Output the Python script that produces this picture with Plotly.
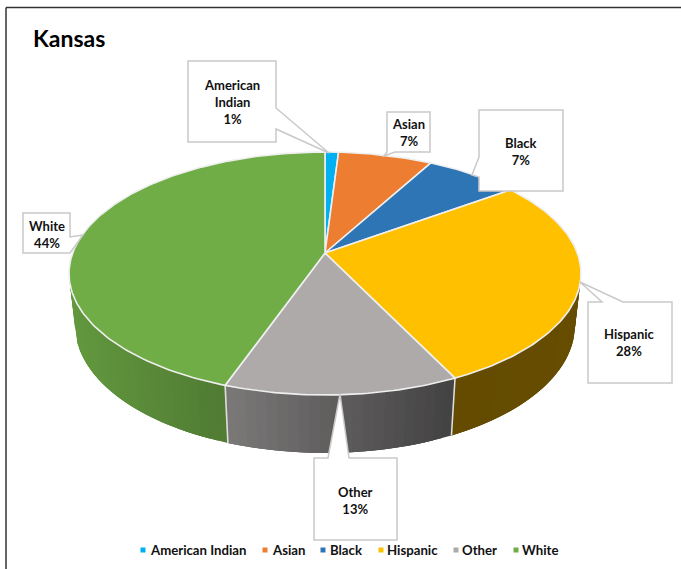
import numpy as np
import plotly.graph_objects as go

# ---- data ----
categories = ["American Indian", "Asian", "Black", "Hispanic", "Other", "White"]
shares = [1.0, 7.0, 7.0, 27.8, 12.6, 44.6]
share_labels = ["1%", "7%", "7%", "28%", "13%", "44%"]
colors = ["#00B0F0", "#ED7D31", "#2E75B6", "#FFC000", "#AEAAAA", "#70AD47"]
title_text = "Kansas"

# ---- projection of the tilted disc onto the page (page pixels) ----
CX, CY, A, B, K = 325.0, 253.0, 252.3, 118.0, 0.1688
DROP, DEPTH = 53.0, 0.024


def top_rim(theta):
    u, v = np.sin(theta), np.cos(theta)
    w = 1 + K * v
    return CX + A * u / w, CY - B * v / w


def low_rim(theta):
    u, v = np.sin(theta), np.cos(theta)
    w = 1 + K * v + DEPTH
    return CX + A * u / w, CY + (DROP - B * v) / w


def shade(hex_color, f):
    r, g, b = (int(hex_color[i:i + 2], 16) for i in (1, 3, 5))
    return f"rgb({r * f:.0f},{g * f:.0f},{b * f:.0f})"


edges = np.radians(np.concatenate([[0], np.cumsum(shares)]) / sum(shares) * 360)
fig = go.Figure()

# side wall: overlapping strips so no seams show, darkening left to right
STEP = np.radians(2.0)
for i, col in enumerate(colors):
    lo, hi = edges[i], edges[i + 1]
    n = max(2, int((hi - lo) / STEP) + 1)
    th = np.linspace(lo, hi, n)
    for j in range(n - 1):
        t0, t1 = th[j], th[j + 1]
        if np.cos((t0 + t1) / 2) >= 0.3:
            continue
        t2 = th[min(j + 3, n - 1)]
        arc = np.linspace(t0, t2, 6)
        tx, ty = top_rim(arc)
        bx, by = low_rim(arc)
        mx = float(top_rim((t0 + t1) / 2)[0])
        f = float(np.interp(mx, [69, 225, 340, 452, 581], [0.88, 0.71, 0.54, 0.39, 0.40]))
        fig.add_trace(go.Scatter(x=np.r_[tx, bx[::-1], tx[0]], y=np.r_[ty, by[::-1], ty[0]],
                                 mode="lines", fill="toself", fillcolor=shade(col, f),
                                 line=dict(width=0), hoverinfo="skip", showlegend=False))

# separators on the wall
for e in edges[1:]:
    if np.cos(e) < 0:
        tx, ty = top_rim(e)
        bx, by = low_rim(e)
        fig.add_trace(go.Scatter(x=[tx, bx], y=[ty, by], mode="lines",
                                 line=dict(color="#dedede", width=1.6),
                                 hoverinfo="skip", showlegend=False))

# top face
for i, (name, col) in enumerate(zip(categories, colors)):
    n = max(3, int(np.degrees(edges[i + 1] - edges[i])) + 2)
    th = np.linspace(edges[i], edges[i + 1], n)
    rx, ry = top_rim(th)
    fig.add_trace(go.Scatter(x=np.r_[CX, rx, CX], y=np.r_[CY, ry, CY], mode="lines",
                             fill="toself", fillcolor=col, name=name,
                             line=dict(color="#efefef", width=1.6),
                             hoverinfo="skip", showlegend=False))

# legend keys
legend_marks = [143, 265, 323, 381, 456, 516]
legend_texts = [150.5, 272.5, 330.5, 388, 463, 523]
LEG_Y = 550
for name, col, mx, tx in zip(categories, colors, legend_marks, legend_texts):
    fig.add_trace(go.Scatter(x=[mx], y=[LEG_Y], mode="markers",
                             marker=dict(symbol="square", size=5, color=col),
                             hoverinfo="skip", showlegend=False))

# callouts: (outline path, label centre, label text)
callouts = [
    ([(188, 61), (276, 61), (276, 108), (329, 153), (276, 129), (276, 142), (188, 142)],
     (232, 102), ["American", "Indian", share_labels[0]]),
    ([(387, 112), (430, 112), (430, 152), (395, 152), (384, 156), (387, 152)],
     (408, 132), ["Asian", share_labels[1]]),
    ([(479, 110), (563, 110), (563, 191), (479, 191), (479, 177), (472, 175), (479, 157)],
     (521, 151), ["Black", share_labels[2]]),
    ([(588, 302), (602, 302), (580, 282), (623, 302), (672, 302), (672, 383), (588, 383)],
     (629, 342), ["Hispanic", share_labels[3]]),
    ([(314, 458), (328, 458), (340, 394), (349, 458), (397, 458), (397, 540), (314, 540)],
     (355, 500), ["Other", share_labels[4]]),
    ([(23, 213), (70, 213), (70, 237), (83, 235), (70, 253), (23, 253)],
     (46.5, 234), ["White", share_labels[5]]),
]
shapes = []
annotations = []
for pts, (lx, ly), lines in callouts:
    path = "M" + " L".join(f"{x},{y}" for x, y in pts) + " Z"
    shapes.append(dict(type="path", path=path, xref="x", yref="y", layer="above",
                       fillcolor="white", line=dict(color="#c9c9c9", width=1.5)))
    annotations.append(dict(x=lx, y=ly, xref="x", yref="y",
                            text="<br>".join(f"<b>{t}</b>" for t in lines), showarrow=False,
                            align="center", font=dict(family="Lato", size=13, color="#111111")))

for name, tx in zip(categories, legend_texts):
    annotations.append(dict(x=tx, y=LEG_Y, xref="x", yref="y", text=f"<b>{name}</b>", showarrow=False,
                            xanchor="left", xshift=-3, font=dict(family="Lato", size=13.2, color="#111111")))

annotations.append(dict(x=33, y=38, xref="x", yref="y", text=f"<b>{title_text}</b>", showarrow=False,
                        xanchor="left", xshift=-2, font=dict(family="Lato", size=23, color="#000000")))

# outer frame of the chart area
shapes.append(dict(type="line", x0=6, y0=7.5, x1=681, y1=7.5, xref="x", yref="y",
                   line=dict(color="#333333", width=1.5)))
shapes.append(dict(type="line", x0=6, y0=7.5, x1=6, y1=569, xref="x", yref="y",
                   line=dict(color="#333333", width=1.5)))

fig.update_layout(
    width=681, height=569, margin=dict(l=0, r=0, t=0, b=0),
    paper_bgcolor="white", plot_bgcolor="white", showlegend=False,
    xaxis=dict(range=[0, 681], visible=False, fixedrange=True),
    yaxis=dict(range=[569, 0], visible=False, fixedrange=True),
    shapes=shapes, annotations=annotations,
)
fig.write_html("out.html", config={"displayModeBar": False},
               post_script="document.body.style.margin='0';document.body.style.overflow='hidden';")
